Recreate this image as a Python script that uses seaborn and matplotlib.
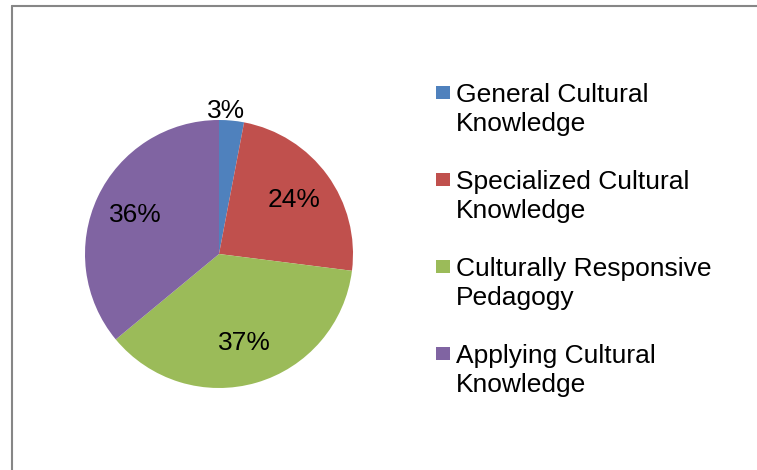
import numpy as np
import matplotlib
matplotlib.use("Agg")
import matplotlib.pyplot as plt
import seaborn as sns
from matplotlib.lines import Line2D
from matplotlib.patches import Rectangle

categories = ["General Cultural\nKnowledge", "Specialized Cultural\nKnowledge",
              "Culturally Responsive\nPedagogy", "Applying Cultural\nKnowledge"]
values = [3, 24, 37, 36]
colors = ["#4F81BD", "#C0504D", "#9BBB59", "#8064A2"]

sns.set_theme(style="white")
plt.rcParams['font.family'] = ['Liberation Sans', 'DejaVu Sans']

W, H = 757, 470
fig = plt.figure(figsize=(W / 100, H / 100), dpi=100)
fig.patch.set_facecolor("white")

cx, cy, r = 219, 254, 134
ax = fig.add_axes([(cx - r) / W, (H - cy - r) / H, 2 * r / W, 2 * r / H])
palette = sns.color_palette(colors)
wedges, texts, autotexts = ax.pie(values, colors=palette, startangle=90, counterclock=False,
                                  autopct=lambda p: f"{p:.0f}%", pctdistance=0.69,
                                  textprops=dict(fontsize=19, color="black"),
                                  wedgeprops=dict(linewidth=0))
# move the small slice's label outside the pie
for w, t, v in zip(wedges, autotexts, values):
    if v < 5:
        ang = np.deg2rad((w.theta1 + w.theta2) / 2)
        t.set_position((1.0 * np.cos(ang) - 0.04, 1.0 * np.sin(ang) + 0.02))
        t.set_va("baseline")
ax.set_xlim(-1, 1)
ax.set_ylim(-1, 1)
ax.set_aspect("equal")
ax.axis("off")

# legend drawn manually (Excel style, square aligned with first line)
lx, ly0, dy = 436, 92, 87
for i, (lab, col) in enumerate(zip(categories, colors)):
    yc = ly0 + i * dy
    fig.patches.append(Rectangle((lx / W, (H - yc - 6.5) / H), 14 / W, 13 / H,
                                 transform=fig.transFigure, facecolor=col, edgecolor="none"))
    fig.text((lx + 20) / W, (H - yc - 8 - 31) / H, lab, fontsize=19, color="black",
             ha="left", va="baseline", linespacing=1.26)

# chart frame lines
fig.add_artist(Line2D([11.5 / W, 11.5 / W], [0, (H - 5.5) / H], color="#868686", lw=1.5,
                      transform=fig.transFigure))
fig.add_artist(Line2D([11.5 / W, 1], [(H - 5.5) / H, (H - 5.5) / H], color="#868686", lw=1.5,
                      transform=fig.transFigure))

fig.savefig("out.png", dpi=100)
